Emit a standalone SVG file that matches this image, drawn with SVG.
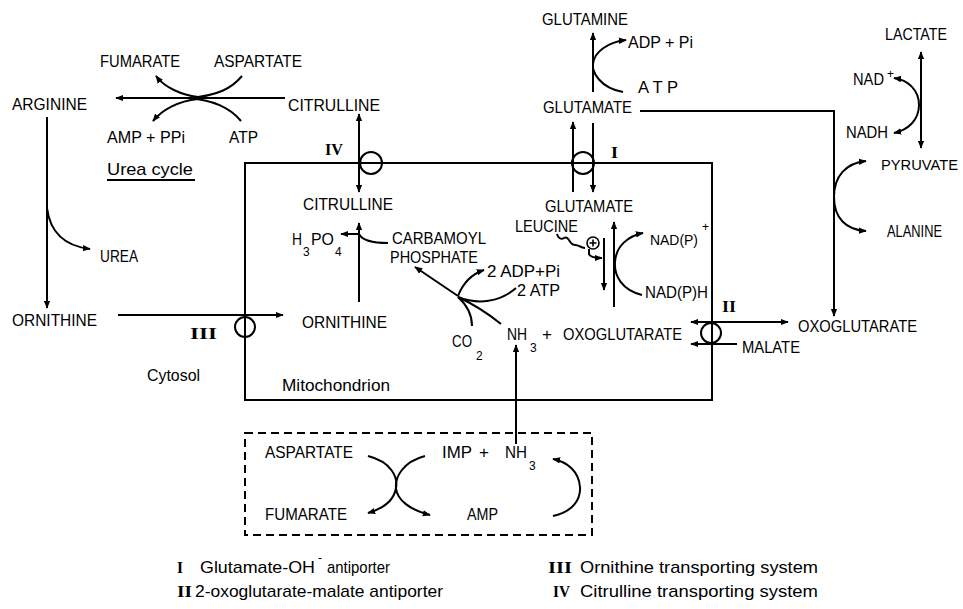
<svg xmlns="http://www.w3.org/2000/svg" width="963" height="609" viewBox="0 0 963 609">
<style>
text{font-family:"Liberation Sans",Arial,sans-serif;font-size:17px;fill:#000}
.s{font-size:12px}
.r{font-family:"Liberation Serif","Times New Roman",serif;font-size:17px;font-weight:bold}
.c{fill:none;stroke:#000;stroke-width:2}
.a{marker-end:url(#ah)}
.b{marker-start:url(#ah);marker-end:url(#ah)}
</style>
<defs>
<marker id="ah" viewBox="0 0 10 10" refX="9" refY="5" markerWidth="8" markerHeight="8" markerUnits="userSpaceOnUse" orient="auto-start-reverse"><path d="M0,1 L10,5 L0,9 z" fill="#000"/></marker>
</defs>
<rect width="963" height="609" fill="#fff"/>

<g id="compartments">
<rect id="mitochondrion-box" x="245" y="163" width="467" height="237" class="c"/>
<rect id="purine-cycle-box" x="245" y="433" width="347" height="102" class="c" stroke-dasharray="8 5"/>
</g>

<g id="connectors">
<path class="c a" d="M285,98 H116"/>
<path class="c" d="M180,98 H212" stroke-width="4"/>
<path class="c a" d="M198,97 C182,95 165,88 156,76"/>
<path class="c" d="M242,76 C232,88 218,96 188,98"/>
<path class="c a" d="M198,99 C178,101 162,110 153,121"/>
<path class="c" d="M188,98 C215,100 232,110 241,121"/>
<path class="c" d="M107,180 H195" stroke-width="1.5"/>
<path class="c a" d="M47,117 V308"/>
<path class="c a" d="M47,208 C50,232 65,246 90,249"/>
<path class="c a" d="M118,315 H283"/>
<path class="c b" d="M359,114 V192"/>
<path class="c a" d="M359,302 V223"/>
<path class="c" d="M388,243 C372,243 362,240 359,234"/>
<path class="c a" d="M359,234 H341"/>
<path class="c a" d="M458,296 L415,267"/>
<path class="c a" d="M458,296 C463,283 472,274 484,270"/>
<path class="c" d="M458,297 C478,305 500,302 516,288"/>
<path class="c" d="M458,297 C468,306 472,315 472,326"/>
<path class="c" d="M458,297 C475,305 490,315 501,324"/>
<path class="c a" d="M516,444 V345"/>
<path class="c a" d="M573,192 V122"/>
<path class="c a" d="M593,123 V192"/>
<path class="c a" d="M593,92 V33"/>
<path class="c a" d="M623,92 C600,88 592,72 593,64 C594,52 608,42 626,40"/>
<path class="c a" d="M640,111 H834 V316"/>
<path class="c a" d="M834,197 C834,176 846,163 866,161"/>
<path class="c a" d="M834,197 C834,218 846,230 866,231"/>
<path class="c b" d="M921,52 V148"/>
<path class="c a" d="M919,105 C919,90 908,80 894,78"/>
<path class="c a" d="M919,105 C919,120 908,130 894,133"/>
<path class="c" d="M557,234 c1,4 4,6 7,4 c3,-2 5,2 7,5 c2,3 5,1 8,3 c2,1 4,2 6,2" stroke-width="1.6"/>
<path class="c a" d="M589,249 V254 Q590,258 602,258"/>
<path class="c a" d="M604,238 V290"/>
<path class="c a" d="M614,307 V222"/>
<path class="c a" d="M642,295 C622,290 614,276 615,262 C616,246 628,236 643,233"/>
<path class="c b" d="M691,322 H788"/>
<path class="c a" d="M737,344 H691"/>
<path class="c a" d="M368,456 C392,462 398,478 396,488 C394,500 385,508 368,513"/>
<path class="c a" d="M425,456 C402,462 395,478 396,488 C397,500 410,510 430,515"/>
<path class="c a" d="M553,516 C572,512 581,500 580,487 C579,472 568,462 553,459"/>
</g>

<g id="transporters">
<circle id="transporter-IV" cx="371" cy="163" r="11" class="c"/>
<circle id="transporter-I" cx="583" cy="163" r="11" class="c"/>
<circle id="transporter-III" cx="245" cy="327" r="10" class="c"/>
<circle id="transporter-II" cx="711" cy="333" r="10" class="c"/>
<text class="r" x="325" y="155" textLength="18" lengthAdjust="spacingAndGlyphs">IV</text>
<text class="r" x="611" y="158" textLength="7" lengthAdjust="spacingAndGlyphs">I</text>
<text class="r" x="190" y="339" textLength="27" lengthAdjust="spacingAndGlyphs">III</text>
<text class="r" x="722" y="312" textLength="14" lengthAdjust="spacingAndGlyphs">II</text>
</g>

<g id="n-fumarate-top"><text x="100" y="67" textLength="80" lengthAdjust="spacingAndGlyphs">FUMARATE</text></g>
<g id="n-aspartate-top"><text x="214" y="67" textLength="88" lengthAdjust="spacingAndGlyphs">ASPARTATE</text></g>
<g id="n-arginine"><text x="12" y="110" textLength="75" lengthAdjust="spacingAndGlyphs">ARGININE</text></g>
<g id="n-citrulline-cyt"><text x="288" y="111" textLength="92" lengthAdjust="spacingAndGlyphs">CITRULLINE</text></g>
<g id="n-amp-ppi"><text x="107" y="143" textLength="78" lengthAdjust="spacingAndGlyphs">AMP + PPi</text></g>
<g id="n-atp-top"><text x="229" y="143" textLength="29" lengthAdjust="spacingAndGlyphs">ATP</text></g>
<g id="n-urea-cycle"><text x="107" y="175" textLength="86" lengthAdjust="spacingAndGlyphs">Urea  cycle</text></g>
<g id="n-urea"><text x="100" y="262" textLength="38" lengthAdjust="spacingAndGlyphs">UREA</text></g>
<g id="n-ornithine-cyt"><text x="12" y="326" textLength="85" lengthAdjust="spacingAndGlyphs">ORNITHINE</text></g>
<g id="n-cytosol"><text x="147" y="381" textLength="53" lengthAdjust="spacingAndGlyphs">Cytosol</text></g>
<g id="n-mitochondrion"><text x="282" y="391" textLength="108" lengthAdjust="spacingAndGlyphs">Mitochondrion</text></g>
<g id="n-citrulline-mito"><text x="303" y="210" textLength="90" lengthAdjust="spacingAndGlyphs">CITRULLINE</text></g>
<g id="n-h3po4">
<text x="292" y="245" textLength="10" lengthAdjust="spacingAndGlyphs">H</text>
<text class="s" x="303" y="256">3</text>
<text x="311" y="245" textLength="23" lengthAdjust="spacingAndGlyphs">PO</text>
<text class="s" x="335" y="256">4</text>
</g>
<g id="n-carbamoyl-phosphate">
<text x="392" y="244" textLength="94" lengthAdjust="spacingAndGlyphs">CARBAMOYL</text>
<text x="390" y="263" textLength="88" lengthAdjust="spacingAndGlyphs">PHOSPHATE</text>
</g>
<g id="n-ornithine-mito"><text x="302" y="328" textLength="85" lengthAdjust="spacingAndGlyphs">ORNITHINE</text></g>
<g id="n-2adp"><text x="487" y="277" textLength="73" lengthAdjust="spacingAndGlyphs">2 ADP+Pi</text></g>
<g id="n-2atp"><text x="517" y="296" textLength="43" lengthAdjust="spacingAndGlyphs">2 ATP</text></g>
<g id="n-co2">
<text x="452" y="347" textLength="20" lengthAdjust="spacingAndGlyphs">CO</text>
<text class="s" x="476" y="360">2</text>
</g>
<g id="n-nh3-oxoglutarate">
<text x="507" y="340" textLength="20" lengthAdjust="spacingAndGlyphs">NH</text>
<text class="s" x="530" y="352">3</text>
<text x="542" y="340">+</text>
<text x="563" y="340" textLength="119" lengthAdjust="spacingAndGlyphs">OXOGLUTARATE</text>
</g>
<g id="n-glutamate-mito"><text x="545" y="212" textLength="88" lengthAdjust="spacingAndGlyphs">GLUTAMATE</text></g>
<g id="n-leucine">
<text x="515" y="232" textLength="63" lengthAdjust="spacingAndGlyphs">LEUCINE</text>
<circle cx="593" cy="243" r="6" fill="#fff" stroke="#000" stroke-width="1.6"/>
<path d="M589.5,243 H596.5 M593,239.5 V246.5" stroke="#000" stroke-width="1.6"/>
</g>
<g id="n-nadp-plus">
<text x="650" y="245" style="font-size:15px" textLength="48" lengthAdjust="spacingAndGlyphs">NAD(P)</text>
<text class="s" x="702" y="231">+</text>
</g>
<g id="n-nadph"><text x="645" y="298" textLength="63" lengthAdjust="spacingAndGlyphs">NAD(P)H</text></g>
<g id="n-malate"><text x="742" y="353" textLength="58" lengthAdjust="spacingAndGlyphs">MALATE</text></g>
<g id="n-oxoglutarate-cyt"><text x="798" y="332" textLength="119" lengthAdjust="spacingAndGlyphs">OXOGLUTARATE</text></g>
<g id="n-glutamine"><text x="542" y="25" textLength="86" lengthAdjust="spacingAndGlyphs">GLUTAMINE</text></g>
<g id="n-adp-pi"><text x="628" y="48" textLength="65" lengthAdjust="spacingAndGlyphs">ADP + Pi</text></g>
<g id="n-atp-gln"><text x="638" y="93" textLength="40" lengthAdjust="spacingAndGlyphs">A T P</text></g>
<g id="n-glutamate-cyt"><text x="543" y="113" textLength="89" lengthAdjust="spacingAndGlyphs">GLUTAMATE</text></g>
<g id="n-lactate"><text x="885" y="40" textLength="62" lengthAdjust="spacingAndGlyphs">LACTATE</text></g>
<g id="n-nad-plus">
<text x="853" y="85" textLength="31" lengthAdjust="spacingAndGlyphs">NAD</text>
<text class="s" x="887" y="78">+</text>
</g>
<g id="n-nadh"><text x="846" y="138" textLength="42" lengthAdjust="spacingAndGlyphs">NADH</text></g>
<g id="n-pyruvate"><text x="881" y="170" style="font-size:14.5px" textLength="77" lengthAdjust="spacingAndGlyphs">PYRUVATE</text></g>
<g id="n-alanine"><text x="887" y="237" textLength="55" lengthAdjust="spacingAndGlyphs">ALANINE</text></g>
<g id="n-aspartate-box"><text x="265" y="458" textLength="88" lengthAdjust="spacingAndGlyphs">ASPARTATE</text></g>
<g id="n-imp-nh3">
<text x="442" y="458" textLength="30" lengthAdjust="spacingAndGlyphs">IMP</text>
<text x="479" y="458">+</text>
<text x="505" y="458" textLength="22" lengthAdjust="spacingAndGlyphs">NH</text>
<text class="s" x="529" y="470">3</text>
</g>
<g id="n-fumarate-box"><text x="265" y="520" textLength="82" lengthAdjust="spacingAndGlyphs">FUMARATE</text></g>
<g id="n-amp-box"><text x="467" y="520" textLength="31" lengthAdjust="spacingAndGlyphs">AMP</text></g>

<g id="legend">
<text class="r" x="177" y="573" textLength="6" lengthAdjust="spacingAndGlyphs">I</text>
<text x="200" y="573" textLength="115" lengthAdjust="spacingAndGlyphs">Glutamate-OH</text>
<text class="s" x="318" y="562">-</text>
<text x="327" y="573" textLength="63" lengthAdjust="spacingAndGlyphs">antiporter</text>
<text class="r" x="177" y="597" textLength="15" lengthAdjust="spacingAndGlyphs">II</text>
<text x="195" y="597" textLength="248" lengthAdjust="spacingAndGlyphs">2-oxoglutarate-malate antiporter</text>
<text class="r" x="548" y="573" textLength="24" lengthAdjust="spacingAndGlyphs">III</text>
<text x="580" y="573" textLength="238" lengthAdjust="spacingAndGlyphs">Ornithine transporting system</text>
<text class="r" x="553" y="597" textLength="17" lengthAdjust="spacingAndGlyphs">IV</text>
<text x="580" y="597" textLength="238" lengthAdjust="spacingAndGlyphs">Citrulline transporting system</text>
</g>
</svg>
